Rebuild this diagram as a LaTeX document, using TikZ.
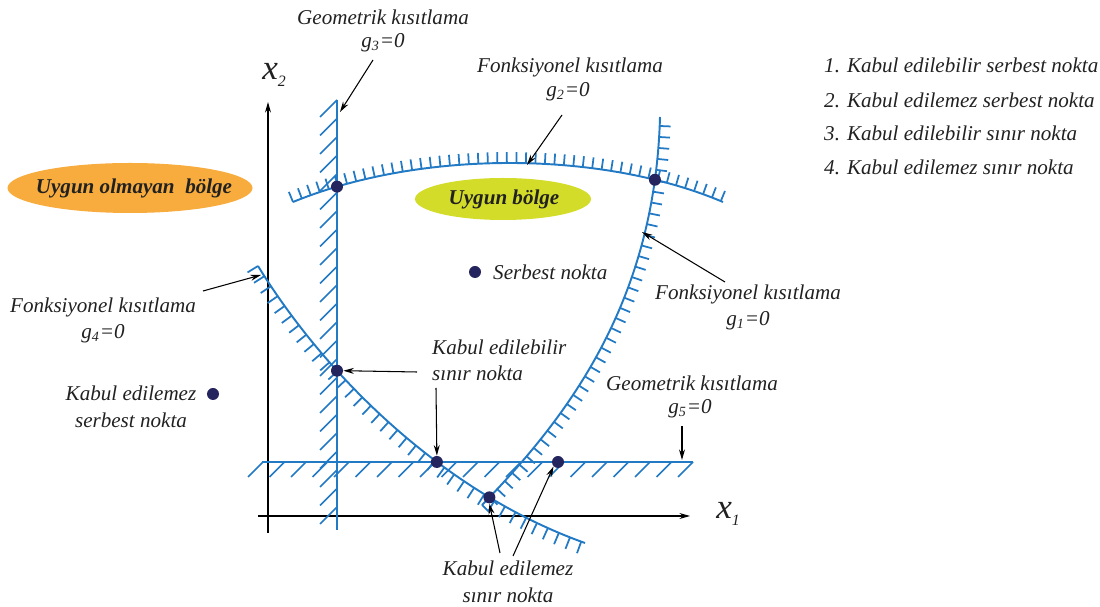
\documentclass[tikz,border=0pt]{standalone}
\usepackage{fontspec}
\setmainfont{Liberation Serif}
\usetikzlibrary{arrows.meta,decorations.markings,intersections}
\definecolor{linecol}{HTML}{2279C4}
\definecolor{dotcol}{HTML}{24245E}
\definecolor{badcol}{HTML}{F8AC3E}
\definecolor{goodcol}{HTML}{D4DC2A}
\newcommand{\axlabel}[2]{{\fontsize{20}{24}\selectfont #1}{\fontsize{9}{10}\selectfont\raisebox{-4pt}{#2}}}

\begin{document}
\begin{tikzpicture}[x=0.02cm, y=0.02cm,
  every node/.style={font=\itshape\fontsize{12}{14}\selectfont, text=black!87},
  bound/.style={draw=linecol, line width=1.1pt},
  hatch/.style={draw=linecol, line width=1pt},
  tickside/.style 2 args={postaction={decorate, decoration={markings,
      mark=between positions 0 and 1 step #2 with {\draw[hatch] (0,0) -- (0,#1);}}}},
  pt/.style={circle, fill=dotcol, inner sep=0pt, minimum size=0.24cm},
  lbl/.style={-{Stealth[length=6pt,width=3.4pt]}, line width=0.6pt},
  region/.style={font=\bfseries\itshape\fontsize{12}{14}\selectfont}]
  \useasboundingbox (0,0) rectangle (1100,-607);

  % axes
  \coordinate (o2) at (268,-533);
  \coordinate (t2) at (268,-102);
  \coordinate (o1) at (258,-516);
  \coordinate (t1) at (690,-516);
  \draw[lbl] (o2) -- (t2);
  \draw[lbl] (o1) -- (t1);
  \node (x2) at (274,-75) {\axlabel{x}{2}};
  \node (x1) at (728,-514) {\axlabel{x}{1}};

  % geometric constraints
  \draw[bound, name path=g3] (337,-100) -- (337,-530);
  \foreach \y in {100,118.5,...,515}
    \draw[hatch] (337,-\y) -- (320,-\y-17);
  \draw[bound, name path=g5] (262,-462) -- (693,-462);
  \foreach \x in {263,284.5,...,694}
    \draw[hatch] (\x,-462) -- (\x-15,-477);

  % functional constraints
  \draw[bound, tickside={6.2pt}{0.19cm}, name path=g2] (293,-202) .. controls (420,-150) and (600,-150) .. (723,-202);
  \draw[bound, tickside={-6.2pt}{0.22cm}, name path=g1] (482,-505) .. controls (570,-415) and (655,-300) .. (660,-117);
  \draw[bound, tickside={-7pt}{0.24cm}, name path=g4] (258,-266) .. controls (330,-383) and (450,-495) .. (585,-543);

  \path[name intersections={of=g3 and g2, by=i32}];
  \path[name intersections={of=g2 and g1, by=i21}];
  \path[name intersections={of=g3 and g4, by=i34}];
  \path[name intersections={of=g4 and g5, by=i45}];
  \path[name intersections={of=g4 and g1, by=i41}];

  % regions
  \fill[badcol] (130,-188) ellipse (122.5 and 25);
  \fill[goodcol] (503,-199) ellipse (88 and 21);
  \node[region] (bad) at (134,-188) {Uygun olmayan\ \ bölge};
  \node[region] (good) at (504,-199) {Uygun bölge};

  % points
  \node[pt] (p32) at (i32) {};
  \node[pt] (p21) at (i21) {};
  \node[pt] (p34) at (i34) {};
  \node[pt] (p45) at (i45) {};
  \node[pt] (p41) at (i41) {};
  \node[pt] (p5) at (558,-462) {};
  \node[pt] (pfree) at (475,-272) {};
  \node[pt] (pout) at (213,-394) {};

  % labels
  \node (g3t) at (383,-17) {Geometrik kısıtlama};
  \node (g3e) at (383,-43) {g\textsubscript{3}=0};
  \node (g2t) at (570,-67) {Fonksiyonel kısıtlama};
  \node (g2e) at (568,-92) {g\textsubscript{2}=0};
  \node (g1t) at (748,-294) {Fonksiyonel kısıtlama};
  \node (g1e) at (748,-321) {g\textsubscript{1}=0};
  \node (g5t) at (692,-383) {Geometrik kısıtlama};
  \node (g5e) at (690,-409) {g\textsubscript{5}=0};
  \node (g4t) at (103,-307) {Fonksiyonel kısıtlama};
  \node (g4e) at (103,-334) {g\textsubscript{4}=0};
  \node[anchor=west] (freet) at (487,-272) {Serbest nokta};
  \node (out1) at (131,-393) {Kabul edilemez};
  \node (out2) at (131,-420) {serbest nokta};
  \node[anchor=west] (bnd1) at (426,-347) {Kabul edilebilir};
  \node[anchor=west] (bnd2) at (426,-373) {sınır nokta};
  \node (bad1) at (508,-568) {Kabul edilemez};
  \node (bad2) at (508,-595) {sınır nokta};

  \node[anchor=west] (leg1) at (818,-65) {1. Kabul edilebilir serbest nokta};
  \node[anchor=west] (leg2) at (818,-100) {2. Kabul edilemez serbest nokta};
  \node[anchor=west] (leg3) at (818,-133) {3. Kabul edilebilir sınır nokta};
  \node[anchor=west] (leg4) at (818,-167) {4. Kabul edilemez sınır nokta};

  % pointers
  \coordinate (a3) at (373,-60);   \coordinate (b3) at (340,-112);
  \coordinate (a2) at (562,-115);  \coordinate (b2) at (527,-165);
  \coordinate (a1) at (725,-282);  \coordinate (b1) at (642,-232);
  \coordinate (a4) at (203,-291);  \coordinate (b4) at (261,-275);
  \coordinate (a5) at (682,-426);  \coordinate (b5) at (682,-460);
  \draw[lbl] (a3) -- (b3);
  \draw[lbl] (a2) -- (b2);
  \draw[lbl] (a1) -- (b1);
  \draw[lbl] (a4) -- (b4);
  \draw[lbl] (a5) -- (b5);
  \draw[lbl] (417,-372) coordinate (c1) -- (p34.east);
  \draw[lbl] (436,-388) coordinate (c2) -- (p45.north);
  \draw[lbl] (500,-553) coordinate (c3) -- (p41.south);
  \draw[lbl] (513,-556) coordinate (c4) -- (p5.south west);
\end{tikzpicture}
\end{document}
